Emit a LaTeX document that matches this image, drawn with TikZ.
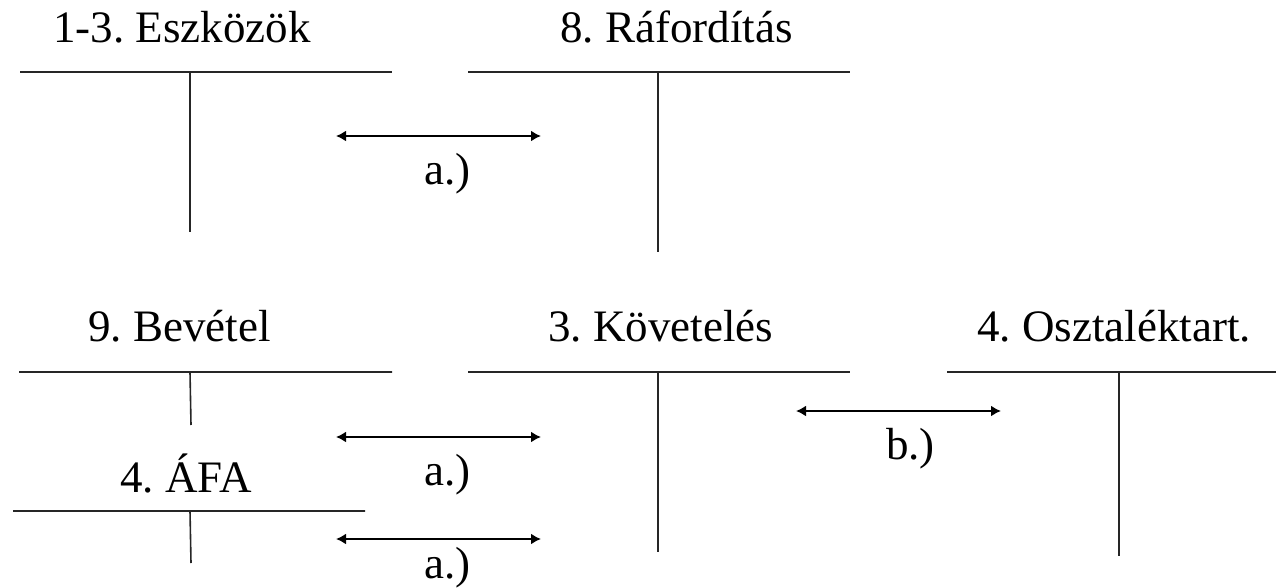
\documentclass[tikz,border=0pt]{standalone}
\usepackage{fontspec}
\setmainfont{Liberation Serif}
\usetikzlibrary{arrows.meta}
\begin{document}
\frenchspacing
\begin{tikzpicture}[x=1pt,y=-1pt,
  lbl/.style={anchor=base west,inner sep=0pt,font=\fontsize{45}{54}\selectfont},
  tline/.style={line width=1.6pt,black!85},
  dbl/.style={line width=1.9pt,{Latex[length=10pt,width=11pt]}-{Latex[length=10pt,width=11pt]}}]
\useasboundingbox (0,0) rectangle (1276,588);
% T-account 1
\node[lbl] (t1) at (53,43) {1-3. Eszközök};
\draw[tline] (20,72) -- (392,72) (190,72) -- (190,232);
% T-account 2
\node[lbl] (t2) at (560,43) {8. Ráfordítás};
\draw[tline] (468,72) -- (850,72) (658,72) -- (658,252);
% T-account 3
\node[lbl] (t3) at (88,341) {9. Bevétel};
\draw[tline] (19,372) -- (392,372) (190,372) -- (191,425);
% T-account 4
\node[lbl] (t4) at (548,341) {3. Követelés};
\draw[tline] (468,372) -- (850,372) (658,372) -- (658,552);
% T-account 5
\node[lbl] (t5) at (977,341) {4. Osztaléktart.};
\draw[tline] (947,372) -- (1276,372) (1119,372) -- (1119,556);
% T-account 6
\node[lbl] (t6) at (120,492) {4. ÁFA};
\draw[tline] (13,511) -- (365,511) (190,511) -- (191,563);
% arrows
\coordinate (a1l) at (336,136); \coordinate (a1r) at (541,136);
\draw[dbl] (a1l) -- (a1r);
\node[lbl] (la1) at (424,185) {a.)};
\coordinate (a2l) at (336,437); \coordinate (a2r) at (541,437);
\draw[dbl] (a2l) -- (a2r);
\node[lbl] (la2) at (424,485) {a.)};
\coordinate (a3l) at (336,539); \coordinate (a3r) at (541,539);
\draw[dbl] (a3l) -- (a3r);
\node[lbl] (la3) at (424,578) {a.)};
\coordinate (bl) at (796,411); \coordinate (br) at (1001,411);
\draw[dbl] (bl) -- (br);
\node[lbl] (lb) at (886,459) {b.)};
\end{tikzpicture}
\end{document}
